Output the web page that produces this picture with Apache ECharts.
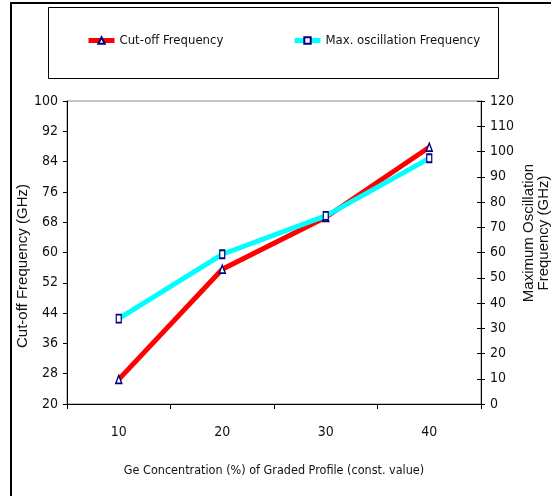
<!DOCTYPE html>
<html>
<head>
<meta charset="utf-8">
<script src="https://cdn.jsdelivr.net/npm/echarts@6/dist/echarts.min.js"></script>
<style>
  html, body { margin: 0; padding: 0; background: #fff; }
  #chart { width: 551px; height: 496px; }
</style>
</head>
<body>
<div id="chart"></div>
<script>
// Ge concentration (%) of the graded profile
const categories = ['10', '20', '30', '40'];
// Cut-off frequency (GHz), left axis
const cutoffFreq = [26.5, 55.6, 69.3, 87.8];
// Maximum oscillation frequency (GHz), right axis
const maxOscFreq = [33.8, 59.3, 74.5, 97.3];

const narrow = '"Liberation Sans Narrow","Arial Narrow","DejaVu Sans Condensed",sans-serif';
const sans = '"Liberation Sans",Arial,sans-serif';

const chart = echarts.init(document.getElementById('chart'), null, { renderer: 'canvas' });

const legendText = { fontFamily: narrow, fontSize: 13, color: '#111' };

chart.setOption({
  animation: false,
  backgroundColor: '#fff',
  grid: {
    left: 67, right: 70, top: 101, bottom: 92,
    show: true, borderColor: '#888', borderWidth: 1, backgroundColor: 'transparent'
  },
  legend: [
    {
      data: ['Cut-off Frequency'], left: 81, top: 29,
      itemWidth: 26, itemHeight: 8, itemGap: 4,
      lineStyle: { width: 5 },
      textStyle: legendText
    },
    {
      data: ['Max. oscillation Frequency'], left: 287, top: 29,
      itemWidth: 26, itemHeight: 8, itemGap: 4,
      lineStyle: { width: 5 },
      textStyle: legendText
    }
  ],
  xAxis: {
    type: 'category',
    data: categories,
    boundaryGap: true,
    axisLine: { lineStyle: { color: '#000', width: 1 } },
    axisTick: { show: true, length: 5, lineStyle: { color: '#000' } },
    axisLabel: { margin: 21, fontFamily: narrow, fontSize: 14, color: '#111' },
    name: 'Ge Concentration (%) of Graded Profile (const. value)',
    nameLocation: 'middle',
    nameGap: 60,
    nameTextStyle: { fontFamily: narrow, fontSize: 12.5, color: '#111', verticalAlign: 'top' },
    splitLine: { show: false }
  },
  yAxis: [
    {
      type: 'value', position: 'left',
      min: 20, max: 100, interval: 8,
      axisLine: { show: true, lineStyle: { color: '#000', width: 1 } },
      axisTick: { show: true, length: 4, lineStyle: { color: '#000' } },
      axisLabel: { margin: 9, fontFamily: narrow, fontSize: 14, color: '#111' },
      splitLine: { show: false }
    },
    {
      type: 'value', position: 'right',
      min: 0, max: 120, interval: 10,
      axisLine: { show: true, lineStyle: { color: '#000', width: 1 } },
      axisTick: { show: true, length: 4, lineStyle: { color: '#000' } },
      axisLabel: { margin: 9, fontFamily: narrow, fontSize: 14, color: '#111' },
      splitLine: { show: false }
    },
    {
      // inner half of the crossing ticks on the right axis
      type: 'value', position: 'right',
      min: 0, max: 120, interval: 10,
      axisLine: { show: false },
      axisTick: { show: true, inside: true, length: 4, lineStyle: { color: '#000' } },
      axisLabel: { show: false },
      splitLine: { show: false }
    }
  ],
  series: [
    {
      name: 'Cut-off Frequency',
      type: 'line',
      yAxisIndex: 0,
      data: cutoffFreq,
      lineStyle: { color: '#ff0000', width: 5 },
      symbol: 'triangle',
      symbolSize: [6, 8],
      itemStyle: { color: '#ffffff', borderColor: '#000080', borderWidth: 1.5 },
      color: '#ff0000',
      z: 2
    },
    {
      name: 'Max. oscillation Frequency',
      type: 'line',
      yAxisIndex: 1,
      data: maxOscFreq,
      lineStyle: { color: '#00ffff', width: 5 },
      symbol: 'rect',
      symbolSize: [5, 8],
      itemStyle: { color: '#ffffff', borderColor: '#000080', borderWidth: 1.5 },
      color: '#00ffff',
      z: 3
    }
  ],
  graphic: [
    {
      type: 'rect', silent: true, z: -1,
      shape: { x: 11, y: 3, width: 700, height: 700 },
      style: { fill: null, stroke: '#000', lineWidth: 2 }
    },
    {
      type: 'rect', silent: true, z: -1,
      shape: { x: 48.5, y: 7.5, width: 450, height: 71 },
      style: { fill: null, stroke: '#000', lineWidth: 1 }
    },
    {
      type: 'text', silent: true,
      x: 23, y: 266, rotation: Math.PI / 2,
      style: {
        text: 'Cut-off Frequency (GHz)',
        font: '15px ' + sans, fill: '#111',
        align: 'center', verticalAlign: 'middle'
      }
    },
    {
      type: 'text', silent: true,
      x: 536, y: 233, rotation: Math.PI / 2,
      style: {
        text: 'Maximum Oscillation\nFrequency (GHz)',
        font: '15px ' + sans, fill: '#111', lineHeight: 15,
        align: 'center', verticalAlign: 'middle'
      }
    }
  ]
});
</script>
</body>
</html>
